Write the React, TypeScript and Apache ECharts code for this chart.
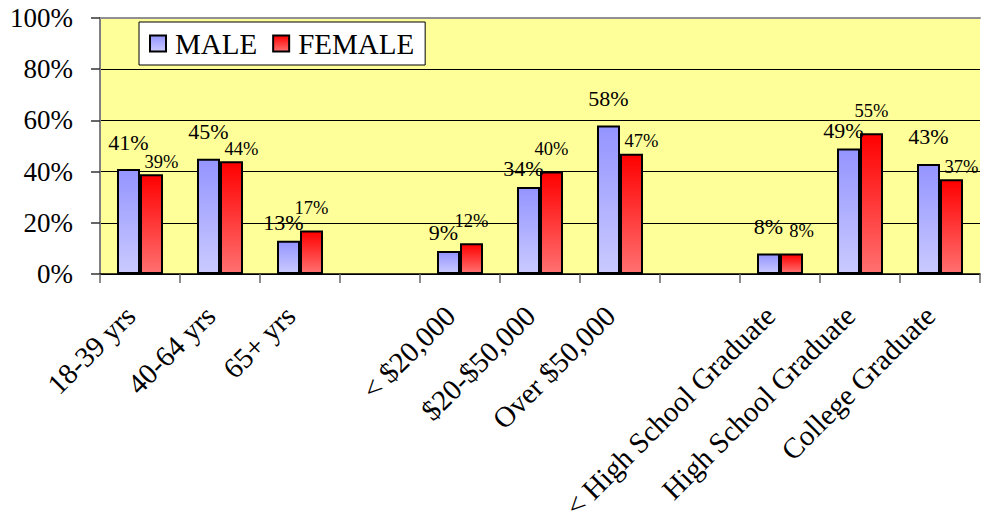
import React, { useEffect, useRef } from "react";
import * as echarts from "echarts";

const categories = [
  "18-39 yrs",
  "40-64 yrs",
  "65+ yrs",
  "",
  "< $20,000",
  "$20-$50,000",
  "Over $50,000",
  " ",
  "< High School Graduate",
  "High School Graduate",
  "College Graduate",
];
const maleValues = [41, 45, 13, null, 9, 34, 58, null, 8, 49, 43];
const femaleValues = [39, 44, 17, null, 12, 40, 47, null, 8, 55, 37];
const seriesNames = ["MALE", "FEMALE"];

const FONT = "Liberation Serif";

export default function App() {
  const ref = useRef<HTMLDivElement>(null);
  useEffect(() => {
    if (!ref.current) return;
    const chart = echarts.init(ref.current, null, { renderer: "svg" });
    const maleGrad = new echarts.graphic.LinearGradient(0, 0, 0, 1, [
      { offset: 0, color: "#9494FF" },
      { offset: 1, color: "#CACAFF" },
    ]);
    const femaleGrad = new echarts.graphic.LinearGradient(0, 0, 0, 1, [
      { offset: 0, color: "#FF0000" },
      { offset: 1, color: "#FF7070" },
    ]);
    // Avoid label collisions the way the original chart does:
    // the lower (or equal) female label steps to the right, otherwise the male one steps down.
    const femaleLayout = (p: any) => {
      const i = p.dataIndex;
      const m = maleValues[i];
      const f = femaleValues[i];
      if (m == null || f == null) return {};
      if (f <= m) return { dx: 10, dy: f === m ? 0 : 10 };
      return {};
    };
    const maleLayout = (p: any) => {
      const i = p.dataIndex;
      const m = maleValues[i];
      const f = femaleValues[i];
      if (m == null || f == null) return {};
      if (f > m && f - m < 7) return { dx: -5, dy: 9 };
      return {};
    };
    chart.setOption({
      animation: false,
      backgroundColor: "#FFFFFF",
      textStyle: { fontFamily: FONT },
      grid: {
        left: 100,
        right: 5,
        top: 18,
        bottom: 251,
        show: true,
        containLabel: false,
        outerBoundsMode: "none",
        backgroundColor: "#FFFF99",
        borderWidth: 0,
      },
      legend: {
        show: true,
        left: 139,
        top: 22,
        orient: "horizontal",
        icon: "rect",
        itemWidth: 16,
        itemHeight: 16,
        itemGap: 15,
        backgroundColor: "#FFFFFF",
        borderColor: "#000000",
        borderWidth: 1,
        padding: [7, 11, 7, 10],
        itemStyle: { borderColor: "#000", borderWidth: 2 },
        textStyle: {
          fontFamily: FONT,
          fontSize: 29,
          color: "#000",
          padding: [0, 0, 0, 4],
        },
        data: seriesNames,
      },
      xAxis: [
        {
          type: "category",
          data: categories,
          position: "bottom",
          axisLine: { show: true, lineStyle: { color: "#000", width: 1.5 } },
          axisTick: {
            show: true,
            length: 9,
            inside: false,
            lineStyle: { color: "#666", width: 1.5 },
          },
          axisLabel: {
            interval: 0,
            rotate: 45,
            fontFamily: FONT,
            fontSize: 29,
            color: "#000",
            margin: 27,
            padding: [0, 14, 0, 0],
            hideOverlap: false,
          },
          splitLine: { show: false },
        },
        {
          type: "category",
          data: categories,
          position: "top",
          axisLine: { show: true, lineStyle: { color: "#909090", width: 2 } },
          axisTick: { show: false },
          axisLabel: { show: false },
          splitLine: { show: false },
        },
      ],
      yAxis: {
        type: "value",
        min: 0,
        max: 100,
        interval: 20,
        axisLine: { show: true, lineStyle: { color: "#808080", width: 2 } },
        axisTick: {
          show: true,
          length: 9,
          inside: false,
          lineStyle: { color: "#333", width: 1.5 },
        },
        axisLabel: {
          formatter: "{value}%",
          fontFamily: FONT,
          fontSize: 27,
          color: "#000",
          margin: 27,
        },
        splitLine: {
          show: true,
          lineStyle: {
            color: ["#000", "#000", "#000", "#000", "#000", "#909090"],
            width: 1,
          },
        },
      },
      series: [
        {
          name: seriesNames[0],
          type: "bar",
          xAxisIndex: 0,
          data: maleValues,
          barWidth: 23,
          barGap: "0%",
          itemStyle: { color: maleGrad, borderColor: "#000", borderWidth: 2 },
          label: {
            show: true,
            position: "top",
            distance: 16,
            formatter: "{c}%",
            fontFamily: FONT,
            fontSize: 22,
            color: "#000",
          },
          labelLayout: maleLayout,
        },
        {
          name: seriesNames[1],
          type: "bar",
          xAxisIndex: 0,
          data: femaleValues,
          barWidth: 23,
          barGap: "0%",
          itemStyle: { color: femaleGrad, borderColor: "#000", borderWidth: 2 },
          label: {
            show: true,
            position: "top",
            distance: 13,
            formatter: "{c}%",
            fontFamily: FONT,
            fontSize: 18.5,
            color: "#000",
          },
          labelLayout: femaleLayout,
        },
      ],
    });
    return () => chart.dispose();
  }, []);
  return (
    <div
      ref={ref}
      style={{ position: "fixed", left: 0, top: 0, width: 985, height: 525 }}
    />
  );
}
